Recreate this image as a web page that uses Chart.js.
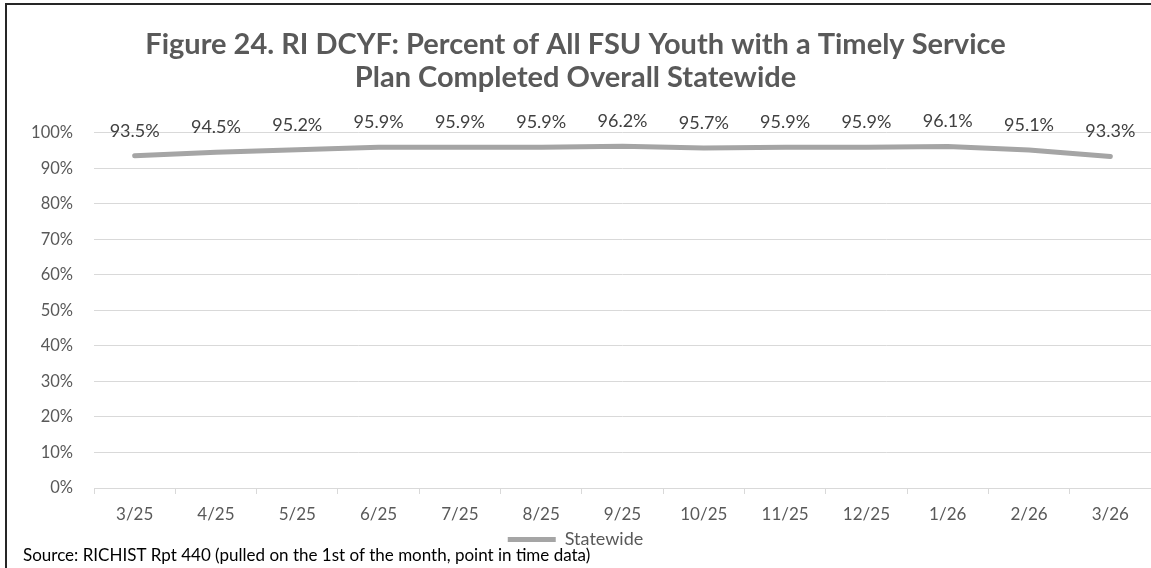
<!DOCTYPE html>
<html>
<head>
<meta charset="utf-8">
<script src="https://cdn.jsdelivr.net/npm/chart.js@4.4.1/dist/chart.umd.min.js"></script>
<style>
  html, body { margin: 0; padding: 0; background: #fff; }
  #wrap { position: relative; width: 1151px; height: 568px; }
  #frame { position: absolute; left: 5px; top: 3px; right: 0; bottom: 0;
           border-top: 2px solid #262626; border-left: 2px solid #262626; pointer-events: none; }
</style>
</head>
<body>
<div id="wrap">
  <canvas id="fsuChart" width="1151" height="568"></canvas>
  <div id="frame"></div>
</div>
<script>
const months = ["3/25", "4/25", "5/25", "6/25", "7/25", "8/25", "9/25", "10/25", "11/25", "12/25", "1/26", "2/26", "3/26"];
const statewide = [93.5, 94.5, 95.2, 95.9, 95.9, 95.9, 96.2, 95.7, 95.9, 95.9, 96.1, 95.1, 93.3];
const yTicks = [0, 10, 20, 30, 40, 50, 60, 70, 80, 90, 100];
const sourceNote = "Source: RICHIST Rpt 440 (pulled on the 1st of the month, point in time data)";

const FONT = "Lato, 'Open Sans', sans-serif";

// labels above each point, like excel data labels
const pointLabels = {
    id: 'pointLabels',
    afterDatasetsDraw(chart) {
        const { ctx } = chart
        const meta = chart.getDatasetMeta(0)
        ctx.save()
        ctx.font = "18px " + FONT
        ctx.fillStyle = '#404040'
        ctx.textAlign = 'center'
        ctx.textBaseline = 'middle'
        meta.data.forEach((pt, i) => {
            ctx.fillText(statewide[i].toFixed(1) + "%", pt.x, pt.y - 25)
        })
        ctx.restore()
    }
}

// source line under the legend
const sourceText = {
    id: 'sourceText',
    afterDraw(chart) {
        const { ctx } = chart
        ctx.save()
        ctx.font = "17px " + FONT
        ctx.fillStyle = '#000000'
        ctx.textAlign = 'left'
        ctx.textBaseline = 'middle'
        ctx.fillText(sourceNote, 23, chart.height - 12)
        ctx.restore()
    }
}

const config = {
    type: "line",
    data: {
        labels: months,
        datasets: [
            {
                label: "Statewide",
                data: statewide,
                borderColor: "#A5A5A5",
                backgroundColor: "#A5A5A5",
                borderWidth: 5,
                borderCapStyle: 'round',
                pointRadius: 0,
                tension: 0,
                clip: false
            }
        ]
    },
    options: {
        responsive: false,
        animation: false,
        layout: { padding: { top: 28, left: 0, right: 0, bottom: 9.4 } },
        plugins: {
            title: {
                display: true,
                text: ["Figure 24. RI DCYF: Percent of All FSU Youth with a Timely Service", "Plan Completed Overall Statewide"],
                color: "#595959",
                font: { family: FONT, size: 29, weight: "bold", lineHeight: 1.15 },
                padding: { top: 0, bottom: 38 }
            },
            legend: {
                position: 'bottom',
                labels: {
                    usePointStyle: true,
                    pointStyle: 'line',
                    pointStyleWidth: 48,
                    color: "#595959",
                    font: { family: FONT, size: 18 },
                    padding: 3
                }
            },
            tooltip: { enabled: false }
        },
        scales: {
            x: {
                offset: true,
                afterFit(scale) {
                    scale.height = 39.6
                },
                grid: { offset: true, drawOnChartArea: false, drawTicks: true, tickLength: 6, color: "#D9D9D9" },
                border: { color: "#D9D9D9" },
                ticks: { color: "#595959", font: { family: FONT, size: 17, lineHeight: 1.2 }, padding: 10.8, maxRotation: 0 }
            },
            y: {
                min: 0,
                max: 100,
                afterBuildTicks(scale) {
                    scale.ticks = yTicks.map(v => ({ value: v }))
                },
                afterFit(scale) {
                    scale.width = 94
                },
                grid: { color: "#D9D9D9", drawTicks: false },
                border: { display: false },
                ticks: {
                    color: "#595959",
                    font: { family: FONT, size: 16.5 },
                    padding: 21,
                    callback: v => v + "%"
                }
            }
        }
    },
    plugins: [pointLabels, sourceText]
};

new Chart(document.getElementById("fsuChart"), config);
</script>
</body>
</html>
